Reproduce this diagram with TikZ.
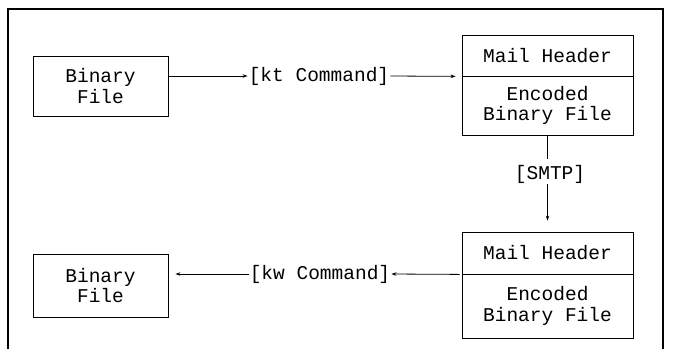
\documentclass[tikz,border=0pt]{standalone}
\usepackage{fontspec}
\setmonofont{Liberation Mono}
\usetikzlibrary{arrows.meta}
\begin{document}
\begin{tikzpicture}[x=1pt,y=-1pt,
  txt/.style={font=\ttfamily\fontsize{19.5}{20.5}\selectfont},
  filebox/.style={txt,draw,line width=0.8pt,align=center,inner sep=0pt},
  cmdlabel/.style={txt,inner sep=1pt},
  conn/.style={line width=0.8pt,-{Stealth[length=5pt,width=3.5pt]}},
  plain/.style={line width=0.8pt}]
\useasboundingbox (0,0) rectangle (679,349);
% outer frame, open at the bottom
\draw[line width=1.6pt] (8,349) -- (8,9) -- (663,9) -- (663,349);

% sender side
\node[filebox,minimum width=135pt,minimum height=60pt] (bf1) at (100.5,86) {Binary\\File};
\node[filebox,minimum width=171pt,minimum height=41pt] (mh1) at (547.5,55.5) {Mail Header};
\node[filebox,minimum width=171pt,minimum height=59pt] (eb1) at (547.5,105.5) {Encoded\\Binary File};

% receiver side
\node[filebox,minimum width=135pt,minimum height=63pt] (bf2) at (100.5,285.5) {Binary\\File};
\node[filebox,minimum width=171pt,minimum height=42pt] (mh2) at (547.5,253) {Mail Header};
\node[filebox,minimum width=171pt,minimum height=64pt] (eb2) at (547.5,306) {Encoded\\Binary File};

% command labels
\node[cmdlabel] (kt) at (319,76) {[kt Command]};
\node[cmdlabel] (kw) at (320,274) {[kw Command]};
\node[cmdlabel] (smtp) at (550,174) {[SMTP]};

% connectors
\draw[conn] (bf1.east |- kt.west) -- (kt.west);
\draw[conn,shorten >=6pt] (kt.east) -- (mh1.south west);
\draw[plain,shorten >=5pt] (eb1.south) -- (smtp.north -| eb1.south);
\draw[conn,shorten >=11pt] (smtp.south -| eb1.south) -- (mh2.north);
\draw[conn] ([xshift=-2pt]mh2.south west) -- (kw.east);
\draw[conn,shorten >=7pt] (kw.west) -- (bf2.east |- kw.west);
\end{tikzpicture}
\end{document}
